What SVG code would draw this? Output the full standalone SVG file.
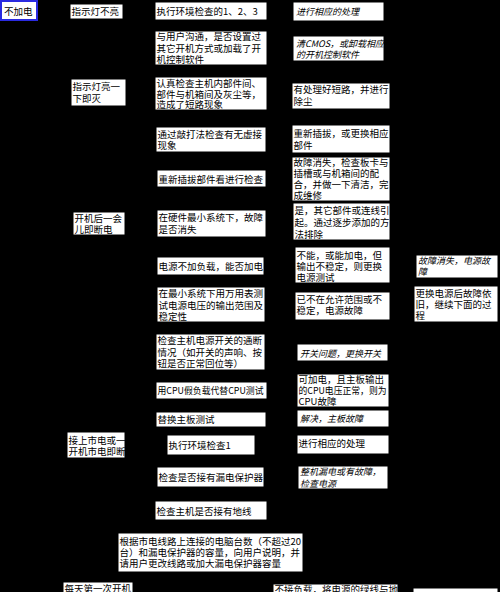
<svg xmlns="http://www.w3.org/2000/svg" width="500" height="592" viewBox="0 0 500 592">
<style>
.b{fill:#fff;stroke:#000;stroke-width:1}
text{font-family:"Noto Sans CJK SC","Liberation Sans",sans-serif;font-size:9.5px;fill:#000}
.i{font-style:italic;font-size:9px}
</style>
<rect x="0" y="0" width="500" height="592" fill="#000"/>
<g id="connectors"/>
<g id="n1"><rect x="1" y="1" width="36" height="19" fill="#fff" stroke="#2a2ae0" stroke-width="2"/><text x="4" y="14.5">不加电</text></g>
<g id="n2"><rect class="b" x="70" y="4" width="53" height="15"/><text x="71.5" y="15">指示灯不亮</text></g>
<g id="n3"><rect class="b" x="155" y="2" width="112" height="18"/><text x="156.5" y="15">执行环境检查的1、2、3</text></g>
<g id="n4"><rect class="b" x="293" y="2" width="91" height="19"/><text class="i" x="296" y="15">进行相应的处理</text></g>
<g id="n5"><rect class="b" x="155" y="31" width="112" height="34"/><text x="156.5" y="40">与用户沟通，是否设置过<tspan x="156.5" dy="11.5">其它开机方式或加载了开</tspan><tspan x="156.5" dy="11.5">机控制软件</tspan></text></g>
<g id="n6"><rect class="b" x="293" y="36" width="91" height="25"/><text class="i" x="296" y="47">清CMOS，或卸载相应<tspan x="296" dy="11">的开机控制软件</tspan></text></g>
<g id="n7"><rect class="b" x="71" y="79" width="55" height="27"/><text x="72.5" y="90">指示灯亮一<tspan x="72.5" dy="12">下即灭</tspan></text></g>
<g id="n8"><rect class="b" x="155" y="77" width="112" height="33"/><text x="156.5" y="87">认真检查主机内部件间、<tspan x="156.5" dy="10.5">部件与机箱间及灰尘等，</tspan><tspan x="156.5" dy="10.5">造成了短路现象</tspan></text></g>
<g id="n9"><rect class="b" x="292" y="83" width="98" height="26"/><text x="293.5" y="93">有处理好短路，并进行<tspan x="293.5" dy="11.5">除尘</tspan></text></g>
<g id="n10"><rect class="b" x="156" y="127" width="110" height="25"/><text x="157.5" y="137.5">通过敲打法检查有无虚接<tspan x="157.5" dy="11.5">现象</tspan></text></g>
<g id="n11"><rect class="b" x="292" y="125" width="98" height="28"/><text x="293.5" y="137">重新插拔，或更换相应<tspan x="293.5" dy="11.5">部件</tspan></text></g>
<g id="n12"><rect class="b" x="157" y="170" width="109" height="17"/><text x="158.5" y="182.5">重新插拔部件看进行检查</text></g>
<g id="n13"><rect class="b" x="292" y="157" width="98" height="44"/><text x="293.5" y="165.5">故障消失，检查板卡与<tspan x="293.5" dy="11">插槽或与机箱间的配</tspan><tspan x="293.5" dy="11">合，并做一下清洁，完</tspan><tspan x="293.5" dy="11">成维修</tspan></text></g>
<g id="n14"><rect class="b" x="73" y="212" width="52" height="23"/><text x="74.5" y="221.5">开机后一会<tspan x="74.5" dy="11">儿即断电</tspan></text></g>
<g id="n15"><rect class="b" x="157" y="210" width="109" height="27"/><text x="158.5" y="221">在硬件最小系统下，故障<tspan x="158.5" dy="11.5">是否消失</tspan></text></g>
<g id="n16"><rect class="b" x="293" y="203" width="97" height="37"/><text x="294.5" y="214">是，其它部件或连线引<tspan x="294.5" dy="12">起。通过逐步添加的方</tspan><tspan x="294.5" dy="11.5">法排除</tspan></text></g>
<g id="n17"><rect class="b" x="157" y="257" width="107" height="18"/><text x="158.5" y="269.5">电源不加负载，能否加电</text></g>
<g id="n18"><rect class="b" x="295" y="247" width="95" height="36"/><text x="296.5" y="258.5">不能，或能加电，但<tspan x="296.5" dy="11.5">输出不稳定，则更换</tspan><tspan x="296.5" dy="11">电源测试</tspan></text></g>
<g id="n19"><rect class="b" x="416" y="255" width="82" height="23"/><text class="i" x="418" y="263.5">故障消失，电源故<tspan x="418" dy="11.5">障</tspan></text></g>
<g id="n20"><rect class="b" x="157" y="287" width="108" height="35"/><text x="158.5" y="297">在最小系统下用万用表测<tspan x="158.5" dy="11.5">试电源电压的输出范围及</tspan><tspan x="158.5" dy="11">稳定性</tspan></text></g>
<g id="n21"><rect class="b" x="295" y="292" width="95" height="28"/><text x="296.5" y="303">已不在允许范围或不<tspan x="296.5" dy="11">稳定，电源故障</tspan></text></g>
<g id="n22"><rect class="b" x="414" y="286" width="84" height="36"/><text x="415.5" y="297">更换电源后故障依<tspan x="415.5" dy="11">旧，继续下面的过</tspan><tspan x="415.5" dy="11">程</tspan></text></g>
<g id="n23"><rect class="b" x="156" y="334" width="109" height="36"/><text x="157.5" y="344">检查主机电源开关的通断<tspan x="157.5" dy="11.5">情况（如开关的声响、按</tspan><tspan x="157.5" dy="11.5">钮是否正常回位等）</tspan></text></g>
<g id="n24"><rect class="b" x="297" y="344" width="91" height="17"/><text class="i" x="300" y="356.5">开关问题，更换开关</text></g>
<g id="n25"><rect class="b" x="156" y="382" width="111" height="17"/><text x="157.5" y="394" textLength="106" lengthAdjust="spacingAndGlyphs">用CPU假负载代替CPU测试</text></g>
<g id="n26"><rect class="b" x="297" y="374" width="92" height="33"/><text x="298.5" y="382.5">可加电，且主板输出<tspan x="298.5" dy="11.5" textLength="88" lengthAdjust="spacingAndGlyphs">的CPU电压正常，则为</tspan><tspan x="298.5" dy="11">CPU故障</tspan></text></g>
<g id="n27"><rect class="b" x="156" y="412" width="110" height="15"/><text x="157.5" y="422.5">替换主板测试</text></g>
<g id="n28"><rect class="b" x="297" y="410" width="92" height="17"/><text class="i" x="300" y="422">解决，主板故障</text></g>
<g id="n29"><rect class="b" x="67" y="432" width="58" height="26"/><text x="68.5" y="443.5">接上市电或一<tspan x="68.5" dy="11.5">开机市电即断</tspan></text></g>
<g id="n30"><rect class="b" x="167" y="435" width="88" height="20"/><text x="168.5" y="448.5">执行环境检查1</text></g>
<g id="n31"><rect class="b" x="297" y="435" width="92" height="19"/><text x="298.5" y="447">进行相应的处理</text></g>
<g id="n32"><rect class="b" x="157" y="467" width="107" height="20"/><text x="158.5" y="480.5">检查是否接有漏电保护器</text></g>
<g id="n33"><rect class="b" x="298" y="466" width="90" height="23"/><text class="i" x="300" y="474.5">整机漏电或有故障，<tspan x="300" dy="12">检查电源</tspan></text></g>
<g id="n34"><rect class="b" x="155" y="501" width="112" height="19"/><text x="156.5" y="514.5">检查主机是否接有地线</text></g>
<g id="n35"><rect class="b" x="118" y="533" width="185" height="39"/><text x="119.5" y="544.5">根据市电线路上连接的电脑台数（不超过20<tspan x="119.5" dy="11">台）和漏电保护器的容量，向用户说明，并</tspan><tspan x="119.5" dy="11">请用户更改线路或加大漏电保护器容量</tspan></text></g>
<g id="n36"><rect class="b" x="63" y="582" width="70" height="14"/><text x="64.5" y="592">每天第一次开机</text></g>
<g id="n37"><rect class="b" x="273" y="584" width="125" height="12"/><text x="274.5" y="593">不接负载，将电源的绿线与地</text></g>
<g id="n38"><rect class="b" x="413" y="588" width="85" height="8"/></g>
</svg>
